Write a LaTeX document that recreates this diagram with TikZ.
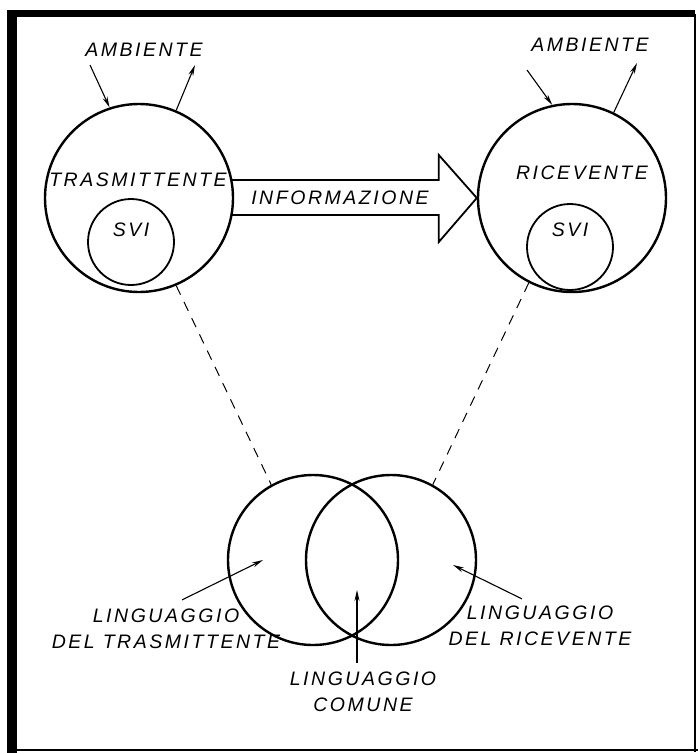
\documentclass[tikz,border=0pt]{standalone}
\usepackage{fontspec}
\newfontfamily\mano[LetterSpace=13]{Liberation Sans}
\usetikzlibrary{arrows.meta}

\begin{document}
\begin{tikzpicture}[x=1pt, y=-1pt, >={Stealth[length=11pt, width=5pt]},
  grande/.style={circle, draw, line width=2.4pt, minimum size=188pt, inner sep=0pt},
  svi/.style={circle, draw, line width=1.8pt, minimum size=86pt, inner sep=0pt},
  venn/.style={circle, draw, line width=2.4pt, minimum size=170pt, inner sep=0pt},
  scritta/.style={font=\mano\itshape\fontsize{19.5}{26}\selectfont, inner sep=0pt, align=center},
  freccina/.style={->, line width=1.1pt},
  tratteggio/.style={line width=1pt, dash pattern=on 10pt off 8pt}]

  \useasboundingbox (0,0) rectangle (698,753);

  % --- 1. cornice ---
  \fill (7,10) rectangle (17,753);
  \fill (7,10) rectangle (695,17);
  \draw[line width=1.2pt] (695,14) -- (695,752);
  \draw[line width=2pt] (7,750) -- (698,750);

  % --- 2. trasmittente e ricevente ---
  \node[grande] (tx) at (139,198) {};
  \node[grande] (rx) at (572,198) {};
  \node[svi] (txsvi) at (131,242) {};
  \node[svi] (rxsvi) at (570,247) {};

  \node[scritta] (txnome) at (138,180) {TRASMITTENTE};
  \node[scritta] (rxnome) at (582,173) {RICEVENTE};
  \node[scritta] (txsvinome) at (131,230) {SVI};
  \node[scritta] (rxsvinome) at (570,230) {SVI};

  % --- 3. freccia dell'informazione ---
  \draw[line width=1.8pt, line join=miter]
    ([shift={(-2,-18)}]tx.east) -- ([shift={(-38,-18)}]rx.west)
    -- ([shift={(-38,-43)}]rx.west) -- (rx.west)
    -- ([shift={(-38,44)}]rx.west) -- ([shift={(-38,17)}]rx.west)
    -- ([shift={(-2,17)}]tx.east);
  \node[scritta] (info) at (340,198) {INFORMAZIONE};

  % --- 4. ambiente ---
  \node[scritta] (amb1) at (144,50) {AMBIENTE};
  \node[scritta] (amb2) at (590,45) {AMBIENTE};
  \coordinate (amb1in) at (90,65);
  \coordinate (amb1out) at (195,65);
  \coordinate (amb2in) at (527,70);
  \coordinate (amb2out) at (637,63);
  \draw[freccina] (amb1in) -- (tx.108);
  \draw[freccina] (tx.67) -- (amb1out);
  \draw[freccina] (amb2in) -- (rx.102);
  \draw[freccina] (rx.64) -- (amb2out);

  % --- 5. i due linguaggi ---
  \node[venn] (lt) at (313,560) {};
  \node[venn] (lr) at (391,560) {};
  \draw[tratteggio] (tx.-67) -- (lt.119);
  \draw[tratteggio] (rx.-117) -- (lr.61);

  % --- 6. didascalie ---
  \node[scritta] (ltlab) at (166,629) {LINGUAGGIO\\DEL TRASMITTENTE};
  \node[scritta] (lrlab) at (540,626) {LINGUAGGIO\\DEL RICEVENTE};
  \node[scritta] (comlab) at (363,692) {LINGUAGGIO\\COMUNE};
  \coordinate (ltdentro) at (263,560);
  \coordinate (lrdentro) at (453,565);
  \coordinate (comdentro) at (357,590);
  \draw[freccina] ([shift={(16,-9)}]ltlab.north) -- (ltdentro);
  \draw[freccina] ([shift={(-18,-7)}]lrlab.north) -- (lrdentro);
  \draw[freccina] ([shift={(-6,-9)}]comlab.north) -- (comdentro);

\end{tikzpicture}
\end{document}
